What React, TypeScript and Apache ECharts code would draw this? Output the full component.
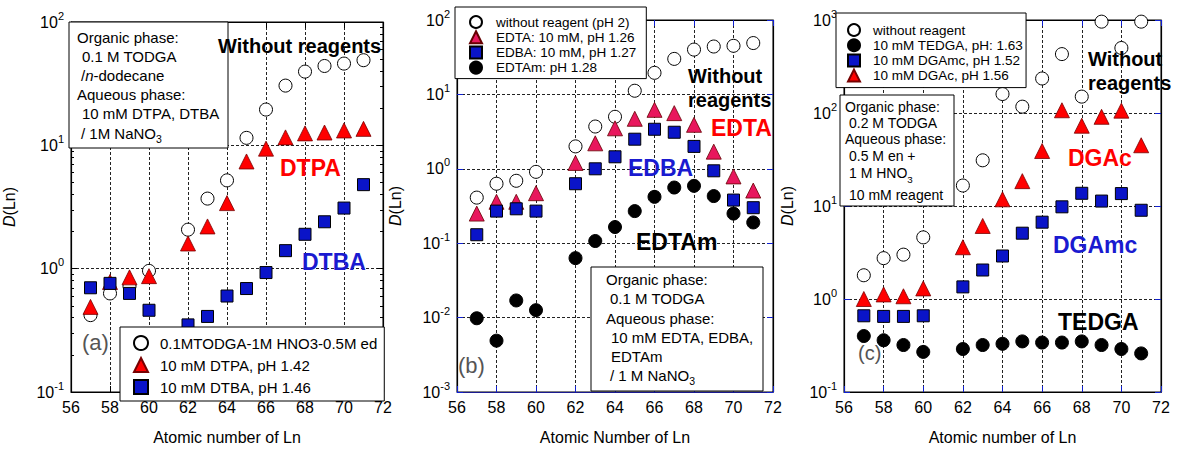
import React, { useEffect, useRef } from 'react';
import * as echarts from 'echarts';

const atomicNumbers = [57, 58, 59, 60, 62, 63, 64, 65, 66, 67, 68, 69, 70, 71];
const xTicks = [56, 58, 60, 62, 64, 66, 68, 70, 72];

// Panel (a)
const aWithout = [0.42, 0.63, 0.72, 0.96, 2.07, 3.7, 5.2, 11.5, 19.5, 30.5, 39.6, 44, 46, 49];
const aDTPA = [0.49, 0.78, 0.85, 0.87, 1.6, 2.2, 3.4, 7.4, 9.4, 11.6, 12.5, 12.7, 13.2, 13.6];
const aDTBA = [0.7, 0.76, 0.63, 0.46, 0.35, 0.41, 0.6, 0.69, 0.93, 1.4, 1.9, 2.4, 3.1, 4.8];

// Panel (b)
const bWithout = [0.41, 0.63, 0.69, 0.91, 2.0, 3.7, 5.0, 11.2, 19.5, 30, 40, 44, 45, 49];
const bEDTA = [0.25, 0.36, 0.36, 0.47, 1.2, 2.2, 3.5, 4.7, 6.2, 5.6, 3.9, 1.7, 0.79, 0.51];
const bEDBA = [0.13, 0.27, 0.29, 0.27, 0.63, 1.0, 1.45, 2.5, 3.4, 3.1, 2.0, 0.94, 0.38, 0.3];
const bEDTAm = [0.0098, 0.0049, 0.017, 0.0126, 0.063, 0.107, 0.165, 0.27, 0.42, 0.56, 0.59, 0.43, 0.25, 0.19];

// Panel (c)
const cWithout = [1.8, 2.75, 3.0, 4.6, 16.6, 31, 160, 117, 235, 430, 150, 960, 500, 960];
const cTEDGA = [0.4, 0.36, 0.32, 0.27, 0.29, 0.32, 0.33, 0.35, 0.34, 0.34, 0.35, 0.32, 0.29, 0.26];
const cDGAmc = [0.66, 0.65, 0.65, 0.66, 1.35, 2.05, 2.9, 5.1, 6.7, 9.8, 13.7, 11.3, 13.6, 9.0];
const cDGAc = [1.0, 1.12, 1.07, 1.3, 3.6, 6.1, 11.8, 18.5, 39, 107, 73, 91, 106, 45];

const FONT = '"Liberation Sans", Arial, sans-serif';
const BOLD = '"Liberation Sans", Arial, sans-serif';
const RED = '#ff0000';
const PINK = '#e8175d';
const BLUE = '#0a14c8';
const TXT_BLUE = '#1a1ad0';
const TICK_BLUE = '#1020d0';

const grids = [
  { left: 69, top: 22, width: 314, height: 371 },
  { left: 457, top: 20, width: 316, height: 372 },
  { left: 844, top: 20, width: 317, height: 373 },
];
const yRanges: [number, number][] = [[0.1, 100], [0.001, 100], [0.1, 1000]];
const yNameGaps = [54, 54, 49];
const xNames = ['Atomic number of Ln', 'Atomic Number of Ln', 'Atomic number of Ln'];

const pts = (vals: number[]) => atomicNumbers.map((x, k) => [x, vals[k]]);

const openCircle = { symbol: 'circle', symbolSize: 13, itemStyle: { color: '#fff', borderColor: '#000', borderWidth: 1, opacity: 1 } };
const filledCircle = { symbol: 'circle', symbolSize: 13, itemStyle: { color: '#000', borderColor: '#000', borderWidth: 1, opacity: 1 } };
const triRed = { symbol: 'triangle', symbolSize: 15, itemStyle: { color: RED, borderColor: '#700', borderWidth: 0.8, opacity: 1 } };
const triPink = { symbol: 'triangle', symbolSize: 15, itemStyle: { color: PINK, borderColor: '#600', borderWidth: 0.8, opacity: 1 } };
const square = { symbol: 'rect', symbolSize: 12, itemStyle: { color: BLUE, borderColor: '#000', borderWidth: 1, opacity: 1 } };

function makeSeries(name: string, grid: number, vals: number[], style: any) {
  return {
    type: 'scatter',
    name,
    xAxisIndex: grid * 2,
    yAxisIndex: grid * 2,
    data: pts(vals),
    silent: true,
    ...style,
  };
}

const yLabelRich = {
  b: { fontSize: 16, fontFamily: FONT, color: '#000', lineHeight: 24 },
  s: { fontSize: 11, fontFamily: FONT, color: '#000', verticalAlign: 'top', lineHeight: 12 },
};
const yFmt = (v: number) => `{b|10}{s|${Math.round(Math.log10(v))}}`;

function buildAxes() {
  const xAxis: any[] = [];
  const yAxis: any[] = [];
  grids.forEach((_, i) => {
    const tickColor = i === 0 ? '#000' : TICK_BLUE;
    const baseLine = i === 1 ? '#1a1a90' : '#000';
    xAxis.push({
      type: 'value', gridIndex: i, min: xTicks[0], max: xTicks[xTicks.length - 1], interval: 2, position: 'bottom',
      axisLine: { show: true, onZero: false, lineStyle: { color: baseLine, width: 1.2 } },
      axisTick: { show: true, inside: true, length: 6, lineStyle: { color: tickColor } },
      axisLabel: { fontSize: 16, color: '#000', fontFamily: FONT, margin: 7 },
      splitLine: { show: true, lineStyle: { type: [3, 2], color: '#222', width: 1 } },
      name: xNames[i], nameLocation: 'middle', nameGap: 37,
      nameTextStyle: { fontSize: 16, color: '#000', fontFamily: FONT },
    });
    xAxis.push({
      type: 'value', gridIndex: i, min: xTicks[0], max: xTicks[xTicks.length - 1], interval: 2, position: 'top',
      axisLine: { show: true, onZero: false, lineStyle: { color: '#000' } },
      axisTick: { show: true, inside: true, length: 6, lineStyle: { color: tickColor } },
      axisLabel: { show: false }, splitLine: { show: false },
    });
    const common = {
      type: 'log', logBase: 10, gridIndex: i, min: yRanges[i][0], max: yRanges[i][1],
      minorTick: i === 0 ? { show: true, splitNumber: 9, length: 3, lineStyle: { color: '#000' } } : { show: false },
      axisTick: { show: true, inside: true, length: 6, lineStyle: { color: tickColor } },
      axisLine: { show: true, onZero: false, lineStyle: { color: '#000', width: 1.2 } },
    };
    yAxis.push({
      ...common, position: 'left',
      axisLabel: { formatter: yFmt, rich: yLabelRich, margin: 7 },
      splitLine: { show: true, lineStyle: { type: [3, 2], color: '#222', width: 1 } },
      name: '{i|D}(Ln)', nameLocation: 'middle', nameGap: yNameGaps[i],
      nameTextStyle: {
        fontSize: 16, color: '#000', fontFamily: FONT,
        rich: { i: { fontSize: 16, fontStyle: 'italic', fontFamily: FONT, color: '#000' } },
      },
    });
    yAxis.push({
      ...common, position: 'right',
      axisLabel: { show: false }, splitLine: { show: false },
    });
  });
  return { xAxis, yAxis };
}

function line(x: number, y: number, text: string, size: number, extra: any = {}) {
  return {
    type: 'text', x, y, z: 101,
    style: {
      text, fontSize: size, fontFamily: FONT, fill: '#000', verticalAlign: 'middle', align: 'left',
      rich: {
        i: { fontSize: size, fontStyle: 'italic', fontFamily: FONT, fill: '#000' },
        sub: { fontSize: size * 0.7, fontFamily: FONT, fill: '#000', verticalAlign: 'bottom', padding: [12, 0, 0, 0] },
      },
      ...extra,
    },
  };
}

function label(x: number, y: number, text: string, color: string, size: number) {
  return {
    type: 'text', x, y, z: 101,
    style: { text, fontSize: size, fontFamily: BOLD, fontWeight: 'bold', fill: color, verticalAlign: 'middle', align: 'left' },
  };
}

function box(x: number, y: number, w: number, h: number) {
  return { type: 'rect', z: 100, shape: { x, y, width: w, height: h }, style: { fill: '#fff', stroke: '#000', lineWidth: 1 } };
}

function legend(left: number, top: number, names: string[], fontSize: number, icon: number, gap: number, padding: number[], textPad: number) {
  return {
    show: true, left, top, orient: 'vertical', data: names, selectedMode: false,
    itemWidth: icon, itemHeight: icon, itemGap: gap, padding,
    borderColor: '#000', borderWidth: 1, backgroundColor: '#fff',
    textStyle: { fontSize, fontFamily: FONT, color: '#000', padding: [0, 0, 0, textPad] },
    z: 50,
  };
}

export default function App() {
  const ref = useRef<HTMLDivElement>(null);
  useEffect(() => {
    if (!ref.current) return;
    const chart = echarts.init(ref.current, undefined, { renderer: 'svg' });
    const { xAxis, yAxis } = buildAxes();

    const aNames = ['0.1MTODGA-1M HNO3-0.5M ed', '10 mM DTPA, pH 1.42', '10 mM DTBA, pH 1.46'];
    const bNames = ['without reagent (pH 2)', 'EDTA: 10 mM, pH 1.26', 'EDBA: 10 mM, pH 1.27', 'EDTAm: pH 1.28'];
    const cNames = ['without reagent', '10 mM TEDGA, pH: 1.63', '10 mM DGAmc, pH 1.52', '10 mM DGAc, pH 1.56'];

    const series = [
      makeSeries(aNames[0], 0, aWithout, openCircle),
      makeSeries(aNames[1], 0, aDTPA, triRed),
      makeSeries(aNames[2], 0, aDTBA, square),
      makeSeries(bNames[0], 1, bWithout, openCircle),
      makeSeries(bNames[1], 1, bEDTA, triPink),
      makeSeries(bNames[2], 1, bEDBA, square),
      makeSeries(bNames[3], 1, bEDTAm, filledCircle),
      makeSeries(cNames[0], 2, cWithout, openCircle),
      makeSeries(cNames[1], 2, cTEDGA, filledCircle),
      makeSeries(cNames[2], 2, cDGAmc, square),
      makeSeries(cNames[3], 2, cDGAc, triRed),
    ];

    const graphic = [
      // panel a box
      box(69, 22, 159, 126),
      line(77, 37, 'Organic phase:', 15),
      line(82, 56, '0.1 M TODGA', 15),
      line(81, 75, '/{i|n}-dodecane', 15),
      line(77, 94, 'Aqueous phase:', 15),
      line(82, 113, '10 mM DTPA, DTBA', 15),
      line(81, 133, '/ 1M NaNO{sub|3}', 15),
      // panel b box
      box(591, 267, 172, 124),
      line(606, 279, 'Organic phase:', 15),
      line(610, 298, '0.1 M TODGA', 15),
      line(606, 318, 'Aqueous phase:', 15),
      line(611, 337, '10 mM EDTA, EDBA,', 15),
      line(611, 356, 'EDTAm', 15),
      line(610, 375, '/ 1 M NaNO{sub|3}', 15),
      // panel c box
      box(840, 95, 114, 111),
      line(845, 107, 'Organic phase:', 14),
      line(849, 123, '0.2 M TODGA', 14),
      line(845, 139, 'Aqueous phase:', 14),
      line(849, 156, '0.5 M en +', 14),
      line(849, 173, '1 M HNO{sub|3}', 14),
      line(849, 195, '10 mM reagent', 14),
      // labels
      label(218, 46, 'Without reagents', '#000', 20),
      label(280, 168, 'DTPA', RED, 23),
      label(302, 262, 'DTBA', TXT_BLUE, 23),
      label(688, 76, 'Without', '#000', 20),
      label(688, 100, 'reagents', '#000', 20),
      label(711, 128, 'EDTA', RED, 23),
      label(628, 168, 'EDBA', TXT_BLUE, 23),
      label(636, 242, 'EDTAm', '#000', 23),
      label(1088, 59, 'Without', '#000', 20),
      label(1088, 83, 'reagents', '#000', 20),
      label(1068, 158, 'DGAc', RED, 23),
      label(1053, 245, 'DGAmc', TXT_BLUE, 23),
      label(1058, 322, 'TEDGA', '#000', 23),
      { type: 'text', x: 82, y: 342, z: 101, style: { text: '(a)', fontSize: 22, fontFamily: FONT, fill: '#555', verticalAlign: 'middle' } },
      { type: 'text', x: 458, y: 365, z: 101, style: { text: '(b)', fontSize: 22, fontFamily: FONT, fill: '#555', verticalAlign: 'middle' } },
      { type: 'text', x: 858, y: 353, z: 101, style: { text: '(c)', fontSize: 20, fontFamily: FONT, fill: '#555', verticalAlign: 'middle' } },
    ];

    chart.setOption({
      animation: false,
      backgroundColor: '#fff',
      textStyle: { fontFamily: FONT },
      grid: grids.map((g) => ({ ...g, show: true, borderColor: '#000', borderWidth: 1, backgroundColor: 'transparent' })),
      xAxis,
      yAxis,
      legend: [
        legend(120, 327, aNames, 15, 14, 6, [8, 7, 6, 13], 7),
        legend(455, 7, bNames, 13.5, 12, 1.2, [8, 10, 4, 14], 9),
        legend(836, 13, cNames, 13.5, 12, 1.2, [10, 3, 5, 11], 8),
      ],
      series,
      graphic,
    });
    return () => chart.dispose();
  }, []);
  return <div ref={ref} style={{ position: 'fixed', left: 0, top: 0, width: 1178, height: 450, background: '#fff' }} />;
}
